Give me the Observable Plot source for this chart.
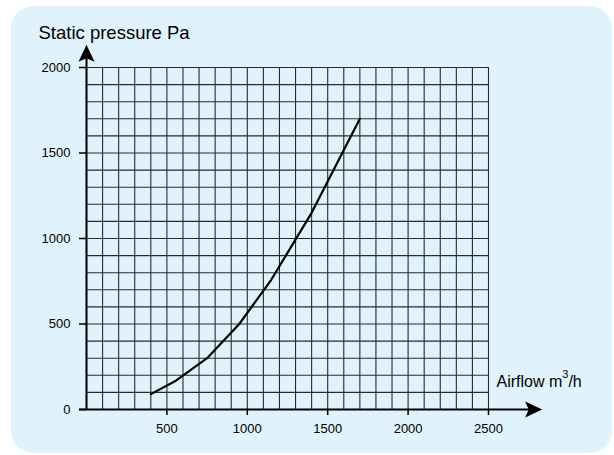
<!DOCTYPE html>
<html>
<head>
<meta charset="utf-8">
<script src="https://cdn.jsdelivr.net/npm/d3@7"></script>
<script src="https://cdn.jsdelivr.net/npm/@observablehq/plot@0.6"></script>
<style>
  html, body { margin: 0; padding: 0; background: #ffffff; }
  #wrap { position: relative; width: 614px; height: 455px; overflow: hidden; }
  #panel { position: absolute; left: 11px; top: 6px; width: 601px; height: 447px;
           background: #e0f2fb; border-radius: 22px; }
  #chart { position: absolute; left: 0; top: 0; }
</style>
</head>
<body>
<div id="wrap"><div id="panel"></div><div id="chart"></div></div>
<script>
// Data
const airflow  = [400, 550, 750, 950, 1150, 1400, 1700];   // m3/h
const pressure = [90, 165, 300, 500, 760, 1150, 1700];     // Pa
const xTicks = [500, 1000, 1500, 2000, 2500];
const yTicks = [0, 500, 1000, 1500, 2000];
const titleText = "Static pressure Pa";
const xLabelMain = "Airflow m";
const xLabelSup = "3";
const xLabelTail = "/h";

const data = airflow.map((x, i) => ({x, y: pressure[i]}));
const gridX = d3.range(0, 2501, 100);
const gridY = d3.range(0, 2001, 100);

// filled arrowhead symbol, tip at origin, pointing up
const arrowHead = {
  draw(ctx) {
    ctx.moveTo(0, 0);
    ctx.lineTo(8, 17);
    ctx.lineTo(0, 13.5);
    ctx.lineTo(-8, 17);
    ctx.closePath();
  }
};

const font = "'Liberation Sans', Arial, Helvetica, sans-serif";

const plot = Plot.plot({
  width: 614,
  height: 455,
  marginLeft: 86,
  marginRight: 126,
  marginTop: 67,
  marginBottom: 46,
  style: {background: "transparent", fontFamily: font, fontSize: "13px", overflow: "visible", color: "black"},
  x: {domain: [0, 2500]},
  y: {domain: [0, 2000]},
  marks: [
    Plot.ruleX(gridX, {x: d => d, y1: 0, y2: 2000, stroke: "#2a2a2a", strokeWidth: 1.1}),
    Plot.ruleY(gridY, {y: d => d, x1: 0, x2: 2500, stroke: "#2a2a2a", strokeWidth: 1.1}),
    // axis lines with arrows
    Plot.ruleY([0], {x1: -43, x2: 2790, stroke: "black", strokeWidth: 2}),
    Plot.ruleX([0], {y1: 0, y2: 2090, stroke: "black", strokeWidth: 2}),
    Plot.dot([{x: 0, y: 2133}], {x: "x", y: "y", symbol: arrowHead, fill: "black", stroke: "none"}),
    Plot.dot([{x: 2834, y: 0}], {x: "x", y: "y", symbol: arrowHead, rotate: 90, fill: "black", stroke: "none"}),
    Plot.axisX({ticks: xTicks, tickFormat: d => String(d), tickSize: 6, tickPadding: 8, label: null, fontSize: 13, strokeWidth: 1.5}),
    Plot.axisY({ticks: yTicks, tickFormat: d => String(d), tickSize: 7, tickPadding: 9, label: null, fontSize: 13, strokeWidth: 1.5}),
    Plot.line(data, {x: "x", y: "y", stroke: "black", strokeWidth: 2.2, strokeLinejoin: "round"}),
    Plot.text([titleText], {frameAnchor: "top-left", text: d => d, textAnchor: "start", lineAnchor: "bottom",
      dx: -48, dy: -28.7, fontSize: 18.5, fill: "black"}),
    Plot.text([xLabelMain], {frameAnchor: "bottom-right", text: d => d, textAnchor: "start", lineAnchor: "bottom",
      dx: 8, dy: -22.3, fontSize: 16, fill: "black",
      render(index, scales, values, dims, ctx, next) {
        const g = next(index, scales, values, dims, ctx);
        d3.select(g).selectAll("text").each(function() {
          const t = d3.select(this);
          t.append("tspan").attr("dy", "-9px").attr("font-size", "11px").text(xLabelSup);
          t.append("tspan").attr("dy", "9px").text(xLabelTail);
        });
        return g;
      }
    })
  ]
});
document.getElementById("chart").appendChild(plot);
</script>
</body>
</html>
